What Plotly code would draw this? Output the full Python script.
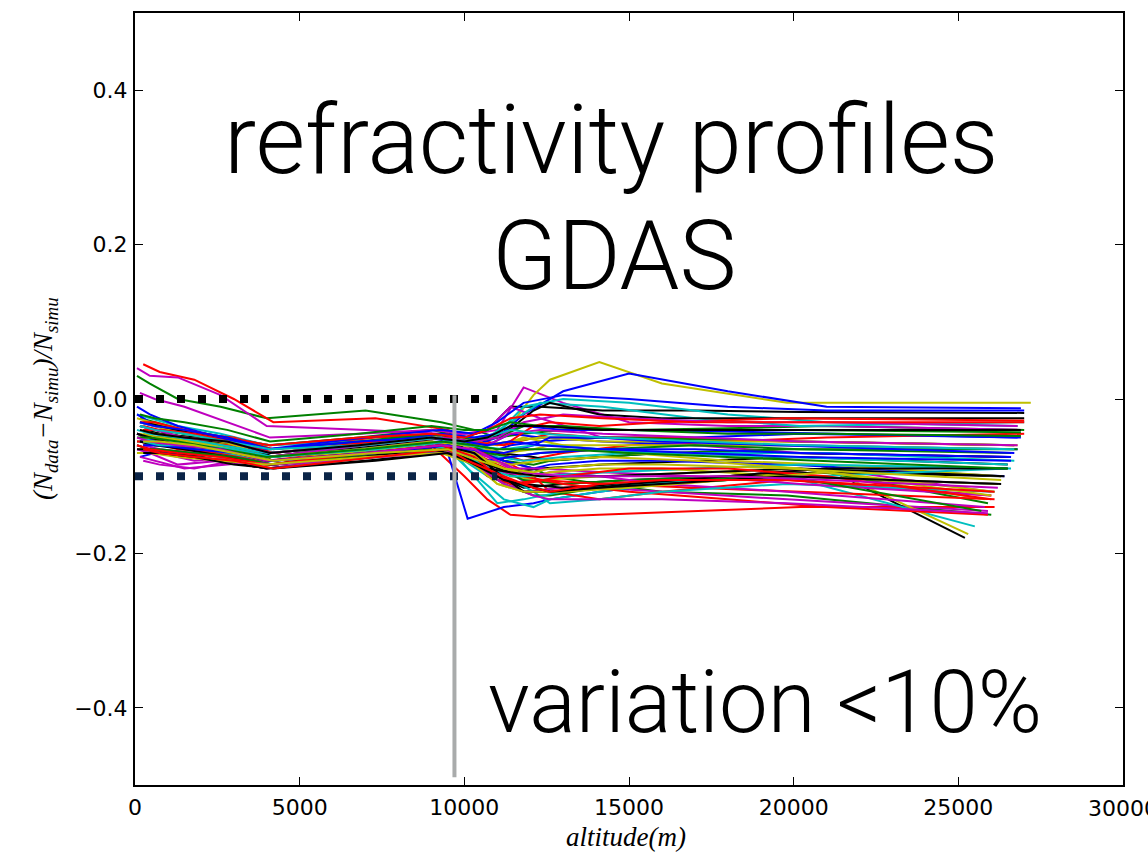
import plotly.graph_objects as go

# Altitude grids (m) of the profile levels; three level sets used in turn
ALT_GRID_A = [150, 600, 1500, 2800, 4100, 6800, 9000, 10000, 10700, 11400, 12300, 14200, 17000, 20200]
ALT_GRID_B = [60, 450, 1300, 2600, 4000, 7000, 9300, 10300, 11000, 11800, 13000, 15000, 18000, 21000]
ALT_GRID_C = [250, 750, 1800, 3000, 4200, 7300, 9500, 10100, 11200, 12100, 12600, 14100, 16000, 19800]

# Top altitude of each profile (m)
END_ALT = [26800, 27000, 26700, 26600, 26900, 27200, 27000,
           26900, 26000, 26100, 26800, 25900, 25800, 25200,
           26200, 26700, 27000, 25500, 26500, 25300, 26600,
           26800, 25900, 26000, 27000, 26000, 26700, 26500,
           26900, 26800, 26100, 26700, 25800, 26800, 26300,
           26400, 26600, 25900, 26100, 26000, 26300, 27000,
           26600, 26900, 27000, 26400, 26800, 26200, 26400,
           27000, 25700, 27000, 26500, 25900, 26000, 26500,
           26700, 26900, 26000, 26500, 26800, 26100, 26300,
           26600, 26500, 26100, 26700, 26200, 26300, 26900]

# Relative refractivity difference (N_data - N_simu)/N_simu of each profile
PROFILES = [
    [-0.030, -0.035, -0.045, -0.055, -0.070, -0.060, -0.050, -0.060, -0.070, -0.060, -0.055, -0.050, -0.050, -0.045, -0.050],
    [0.030, 0.020, 0.000, -0.010, -0.025, -0.015, -0.030, -0.040, -0.050, -0.045, -0.040, -0.040, -0.038, -0.035, -0.040],
    [0.045, 0.035, 0.025, 0.000, -0.030, -0.025, -0.040, -0.050, -0.060, -0.050, -0.045, -0.050, -0.050, -0.055, -0.060],
    [-0.050, -0.050, -0.055, -0.060, -0.075, -0.065, -0.055, -0.080, -0.100, -0.110, -0.105, -0.095, -0.090, -0.085, -0.090],
    [0.040, 0.030, 0.028, 0.005, -0.035, -0.040, -0.045, -0.045, -0.040, 0.015, -0.005, -0.030, -0.035, -0.035, -0.040],
    [-0.060, -0.055, -0.060, -0.065, -0.080, -0.070, -0.060, -0.055, -0.045, 0.005, 0.025, 0.048, 0.020, -0.005, -0.005],
    [-0.035, -0.040, -0.050, -0.060, -0.075, -0.065, -0.050, -0.050, -0.040, -0.010, -0.010, -0.015, -0.015, -0.017, -0.018],
    [-0.045, -0.050, -0.055, -0.060, -0.075, -0.060, -0.055, -0.060, -0.050, -0.020, 0.010, 0.033, 0.010, -0.010, -0.012],
    [-0.040, -0.045, -0.050, -0.055, -0.070, -0.055, -0.045, -0.060, -0.080, -0.090, -0.100, -0.110, -0.120, -0.125, -0.150],
    [-0.055, -0.060, -0.060, -0.070, -0.085, -0.070, -0.060, -0.100, -0.130, -0.150, -0.153, -0.150, -0.145, -0.140, -0.140],
    [-0.020, -0.025, -0.035, -0.045, -0.060, -0.050, -0.045, -0.050, -0.045, -0.010, 0.000, -0.005, -0.020, -0.030, -0.035],
    [-0.070, -0.070, -0.080, -0.075, -0.085, -0.070, -0.060, -0.070, -0.090, -0.115, -0.120, -0.115, -0.120, -0.130, -0.145],
    [-0.030, -0.035, -0.045, -0.055, -0.070, -0.060, -0.055, -0.065, -0.080, -0.100, -0.105, -0.100, -0.095, -0.090, -0.130],
    [-0.060, -0.065, -0.070, -0.080, -0.090, -0.075, -0.065, -0.075, -0.100, -0.115, -0.110, -0.105, -0.100, -0.090, -0.180],
    [-0.050, -0.055, -0.060, -0.065, -0.080, -0.065, -0.070, -0.155, -0.140, -0.135, -0.130, -0.120, -0.110, -0.100, -0.110],
    [-0.025, -0.030, -0.040, -0.050, -0.060, -0.050, -0.040, -0.050, -0.060, -0.055, -0.050, -0.050, -0.052, -0.055, -0.060],
    [-0.045, -0.050, -0.050, -0.055, -0.070, -0.060, -0.050, -0.060, -0.070, -0.080, -0.070, -0.060, -0.055, -0.050, -0.045],
    [-0.060, -0.060, -0.065, -0.070, -0.085, -0.070, -0.065, -0.090, -0.130, -0.140, -0.130, -0.120, -0.110, -0.100, -0.165],
    [0.008, 0.000, -0.010, -0.030, -0.050, -0.045, -0.040, -0.045, -0.040, -0.010, -0.025, -0.050, -0.060, -0.070, -0.075],
    [-0.065, -0.065, -0.070, -0.075, -0.085, -0.075, -0.065, -0.080, -0.110, -0.120, -0.115, -0.110, -0.100, -0.090, -0.175],
    [-0.040, -0.045, -0.050, -0.060, -0.080, -0.065, -0.055, -0.065, -0.070, -0.075, -0.080, -0.075, -0.070, -0.070, -0.075],
    [-0.075, -0.070, -0.075, -0.070, -0.080, -0.070, -0.060, -0.070, -0.060, -0.045, -0.050, -0.055, -0.060, -0.060, -0.065],
    [-0.055, -0.055, -0.060, -0.070, -0.085, -0.070, -0.060, -0.070, -0.090, -0.105, -0.110, -0.105, -0.100, -0.095, -0.135],
    [-0.035, -0.040, -0.045, -0.050, -0.065, -0.050, -0.045, -0.060, -0.080, -0.100, -0.120, -0.130, -0.120, -0.105, -0.125],
    [-0.030, -0.035, -0.040, -0.050, -0.060, -0.055, -0.050, -0.055, -0.050, -0.030, -0.005, -0.010, -0.025, -0.035, -0.030],
    [-0.065, -0.070, -0.085, -0.080, -0.090, -0.075, -0.065, -0.075, -0.100, -0.120, -0.115, -0.110, -0.100, -0.090, -0.120],
    [-0.045, -0.050, -0.055, -0.060, -0.075, -0.065, -0.055, -0.060, -0.070, -0.065, -0.060, -0.060, -0.060, -0.060, -0.065],
    [-0.050, -0.055, -0.065, -0.070, -0.085, -0.070, -0.060, -0.070, -0.085, -0.095, -0.090, -0.085, -0.080, -0.075, -0.085],
    [-0.020, -0.030, -0.040, -0.050, -0.065, -0.055, -0.045, -0.050, -0.045, -0.035, -0.040, -0.040, -0.042, -0.045, -0.050],
    [-0.060, -0.060, -0.065, -0.075, -0.085, -0.070, -0.060, -0.065, -0.080, -0.085, -0.080, -0.075, -0.070, -0.065, -0.065],
    [-0.050, -0.050, -0.055, -0.060, -0.075, -0.060, -0.055, -0.065, -0.100, -0.110, -0.105, -0.110, -0.115, -0.120, -0.130],
    [-0.045, -0.050, -0.055, -0.060, -0.070, -0.060, -0.050, -0.060, -0.075, -0.080, -0.075, -0.070, -0.070, -0.070, -0.080],
    [-0.060, -0.065, -0.070, -0.075, -0.085, -0.075, -0.070, -0.080, -0.095, -0.100, -0.095, -0.100, -0.110, -0.120, -0.140],
    [-0.040, -0.045, -0.050, -0.055, -0.070, -0.060, -0.050, -0.055, -0.060, -0.055, -0.050, -0.055, -0.055, -0.055, -0.060],
    [-0.065, -0.065, -0.070, -0.080, -0.090, -0.080, -0.070, -0.080, -0.100, -0.110, -0.115, -0.110, -0.100, -0.095, -0.100],
    [-0.065, -0.070, -0.070, -0.075, -0.080, -0.070, -0.060, -0.065, -0.080, -0.090, -0.085, -0.080, -0.080, -0.085, -0.100],
    [-0.035, -0.040, -0.045, -0.050, -0.065, -0.055, -0.045, -0.055, -0.070, -0.075, -0.070, -0.065, -0.060, -0.065, -0.070],
    [-0.055, -0.055, -0.065, -0.070, -0.080, -0.065, -0.060, -0.070, -0.085, -0.100, -0.110, -0.120, -0.130, -0.140, -0.150],
    [-0.070, -0.070, -0.075, -0.080, -0.090, -0.075, -0.065, -0.075, -0.100, -0.120, -0.135, -0.130, -0.120, -0.110, -0.120],
    [-0.075, -0.080, -0.090, -0.085, -0.080, -0.070, -0.060, -0.065, -0.075, -0.090, -0.090, -0.095, -0.100, -0.110, -0.125],
    [-0.025, -0.030, -0.040, -0.055, -0.065, -0.060, -0.050, -0.055, -0.060, -0.050, -0.060, -0.070, -0.080, -0.085, -0.100],
    [-0.030, -0.035, -0.045, -0.055, -0.075, -0.060, -0.050, -0.055, -0.045, -0.015, -0.005, -0.020, -0.025, -0.025, -0.025],
    [-0.055, -0.055, -0.060, -0.065, -0.075, -0.065, -0.055, -0.065, -0.080, -0.075, -0.070, -0.065, -0.065, -0.070, -0.075],
    [-0.045, -0.050, -0.050, -0.060, -0.075, -0.060, -0.050, -0.055, -0.050, -0.035, -0.035, -0.040, -0.045, -0.045, -0.048],
    [-0.040, -0.040, -0.045, -0.055, -0.070, -0.055, -0.050, -0.055, -0.060, -0.035, -0.030, -0.035, -0.030, -0.025, -0.028],
    [-0.050, -0.055, -0.060, -0.070, -0.080, -0.070, -0.060, -0.070, -0.090, -0.100, -0.100, -0.095, -0.090, -0.085, -0.090],
    [-0.045, -0.050, -0.060, -0.065, -0.075, -0.060, -0.050, -0.055, -0.050, -0.030, -0.020, -0.025, -0.030, -0.030, -0.035],
    [-0.050, -0.050, -0.055, -0.065, -0.080, -0.065, -0.060, -0.070, -0.090, -0.100, -0.095, -0.090, -0.090, -0.100, -0.110],
    [-0.055, -0.060, -0.065, -0.075, -0.085, -0.075, -0.065, -0.075, -0.090, -0.095, -0.100, -0.100, -0.095, -0.090, -0.100],
    [-0.010, -0.020, -0.035, -0.050, -0.065, -0.050, -0.040, -0.045, -0.030, -0.005, 0.005, 0.000, -0.010, -0.015, -0.015],
    [-0.065, -0.065, -0.070, -0.075, -0.085, -0.070, -0.065, -0.080, -0.110, -0.125, -0.125, -0.115, -0.105, -0.100, -0.145],
    [-0.030, -0.030, -0.040, -0.050, -0.060, -0.050, -0.045, -0.050, -0.040, -0.025, -0.020, -0.025, -0.030, -0.030, -0.030],
    [-0.040, -0.045, -0.050, -0.060, -0.070, -0.060, -0.050, -0.100, -0.135, -0.130, -0.120, -0.110, -0.105, -0.100, -0.090],
    [-0.080, -0.085, -0.090, -0.080, -0.085, -0.075, -0.070, -0.080, -0.110, -0.125, -0.130, -0.130, -0.130, -0.135, -0.148],
    [-0.045, -0.050, -0.055, -0.065, -0.075, -0.065, -0.055, -0.060, -0.080, -0.085, -0.080, -0.075, -0.080, -0.090, -0.125],
    [-0.045, -0.050, -0.060, -0.065, -0.080, -0.070, -0.060, -0.070, -0.095, -0.120, -0.120, -0.110, -0.100, -0.090, -0.090],
    [-0.060, -0.060, -0.065, -0.070, -0.080, -0.070, -0.060, -0.065, -0.070, -0.060, -0.050, -0.050, -0.055, -0.060, -0.070],
    [-0.020, -0.025, -0.030, -0.040, -0.055, -0.045, -0.035, -0.040, -0.040, -0.030, -0.035, -0.040, -0.040, -0.040, -0.043],
    [-0.060, -0.065, -0.070, -0.075, -0.085, -0.070, -0.060, -0.075, -0.100, -0.110, -0.100, -0.090, -0.090, -0.100, -0.130],
    [-0.055, -0.060, -0.060, -0.065, -0.075, -0.065, -0.055, -0.060, -0.065, -0.060, -0.060, -0.065, -0.070, -0.075, -0.085],
    [-0.035, -0.040, -0.050, -0.055, -0.070, -0.060, -0.050, -0.055, -0.060, -0.045, -0.040, -0.045, -0.050, -0.055, -0.060],
    [-0.070, -0.070, -0.075, -0.080, -0.085, -0.075, -0.070, -0.085, -0.110, -0.120, -0.120, -0.115, -0.105, -0.095, -0.120],
    [-0.070, -0.070, -0.075, -0.085, -0.090, -0.080, -0.070, -0.080, -0.105, -0.115, -0.120, -0.115, -0.110, -0.100, -0.110],
    [-0.030, -0.035, -0.040, -0.050, -0.065, -0.055, -0.050, -0.055, -0.060, -0.055, -0.060, -0.065, -0.070, -0.075, -0.080],
    [-0.050, -0.050, -0.055, -0.065, -0.075, -0.065, -0.055, -0.060, -0.065, -0.065, -0.065, -0.070, -0.075, -0.080, -0.090],
    [-0.065, -0.070, -0.075, -0.080, -0.090, -0.075, -0.065, -0.080, -0.100, -0.115, -0.120, -0.110, -0.105, -0.105, -0.120],
    [-0.035, -0.040, -0.045, -0.055, -0.065, -0.060, -0.050, -0.055, -0.050, -0.040, -0.045, -0.050, -0.055, -0.060, -0.065],
    [-0.050, -0.055, -0.060, -0.065, -0.080, -0.070, -0.060, -0.065, -0.080, -0.095, -0.100, -0.100, -0.100, -0.105, -0.115],
    [-0.055, -0.055, -0.060, -0.070, -0.080, -0.070, -0.065, -0.075, -0.090, -0.095, -0.090, -0.085, -0.085, -0.090, -0.105],
    [-0.040, -0.045, -0.050, -0.055, -0.070, -0.060, -0.050, -0.055, -0.050, -0.035, -0.035, -0.040, -0.040, -0.040, -0.040],
]

# matplotlib classic colour cycle b, g, r, c, m, y, k
COLOR_CYCLE = ["#0000ff", "#008000", "#ff0000", "#00bfbf", "#bf00bf", "#bfbf00", "#000000"]

X_TICKS = [0, 5000, 10000, 15000, 20000, 25000, 30000]
Y_TICKS = [-0.4, -0.2, 0.0, 0.2, 0.4]

BAND_TOP = 0.0
BAND_BOTTOM = -0.1
BAND_END_ALT = 11000
TROPO_ALT = 9700

grids = [ALT_GRID_A, ALT_GRID_B, ALT_GRID_C]

fig = go.Figure()
for i, vals in enumerate(PROFILES):
    alts = grids[i % 3] + [END_ALT[i]]
    fig.add_trace(go.Scatter(
        x=alts, y=vals, mode="lines",
        line=dict(color=COLOR_CYCLE[i % 7], width=2),
        showlegend=False, hoverinfo="skip",
    ))

# overlay markers
fig.add_shape(type="line", xref="x", yref="y", x0=0, x1=BAND_END_ALT, y0=BAND_TOP, y1=BAND_TOP,
              line=dict(color="#000000", width=8, dash="8px,13px"))
fig.add_shape(type="line", xref="x", yref="y", x0=0, x1=BAND_END_ALT, y0=BAND_BOTTOM, y1=BAND_BOTTOM,
              line=dict(color="#0b2447", width=8, dash="8px,13px"))
fig.add_shape(type="line", xref="x", yref="y", x0=TROPO_ALT, x1=TROPO_ALT, y0=0.005, y1=-0.49,
              line=dict(color="#a9abab", width=4))

BIG = dict(family="Roboto, Liberation Sans, sans-serif", size=96, color="#000000", weight=300)
fig.add_annotation(text="refractivity profiles", xref="paper", yref="paper",
                   x=0.482, y=0.835, xanchor="center", yanchor="middle", showarrow=False, font=BIG)
fig.add_annotation(text="GDAS", xref="paper", yref="paper",
                   x=0.485, y=0.685, xanchor="center", yanchor="middle", showarrow=False, font=BIG)
fig.add_annotation(text="variation <10%", xref="paper", yref="paper",
                   x=0.638, y=0.108, xanchor="center", yanchor="middle", showarrow=False,
                   font=dict(family="Roboto, Liberation Sans, sans-serif", size=87, color="#000000", weight=300))

LABEL_FONT = dict(family="Liberation Serif, DejaVu Serif, serif", size=27, color="#000000")
fig.add_annotation(text="<i>altitude(m)</i>", xref="paper", yref="paper",
                   x=0.497, y=-0.068, xanchor="center", yanchor="middle", showarrow=False, font=LABEL_FONT)
fig.add_annotation(text="<i>(N<sub>data</sub>−N<sub>simu</sub>)/N<sub>simu</sub></i>",
                   xref="paper", yref="paper", x=-0.091, y=0.5, xanchor="center", yanchor="middle",
                   textangle=-90, showarrow=False, font=LABEL_FONT)

TICK_FONT = dict(family="DejaVu Sans, sans-serif", size=22, color="#000000")
# last x tick label sits at the page edge (cut off in the original too); drawn as an annotation
fig.add_annotation(text=str(X_TICKS[-1]), xref="x", yref="paper", x=X_TICKS[-1], y=-0.012,
                   xanchor="center", yanchor="top", showarrow=False, font=TICK_FONT)

fig.update_xaxes(range=[0, 30000], tickvals=X_TICKS[:-1], ticktext=[str(v) for v in X_TICKS[:-1]],
                 ticks="inside", ticklen=8, tickwidth=1, tickcolor="#000000",
                 showline=True, linecolor="#000000", linewidth=2, mirror="ticks",
                 showgrid=False, zeroline=False, tickfont=TICK_FONT, ticklabelstandoff=2)
fig.update_yaxes(range=[-0.5, 0.5], tickvals=Y_TICKS, tickformat=".1f",
                 ticks="inside", ticklen=8, tickwidth=1, tickcolor="#000000",
                 showline=True, linecolor="#000000", linewidth=2, mirror="ticks",
                 showgrid=False, zeroline=False, tickfont=TICK_FONT, ticklabelstandoff=1)

fig.update_layout(width=1148, height=852, margin=dict(l=135, r=25, t=13, b=67),
                  paper_bgcolor="#ffffff", plot_bgcolor="#ffffff", showlegend=False)

fig.write_html("out.html")
